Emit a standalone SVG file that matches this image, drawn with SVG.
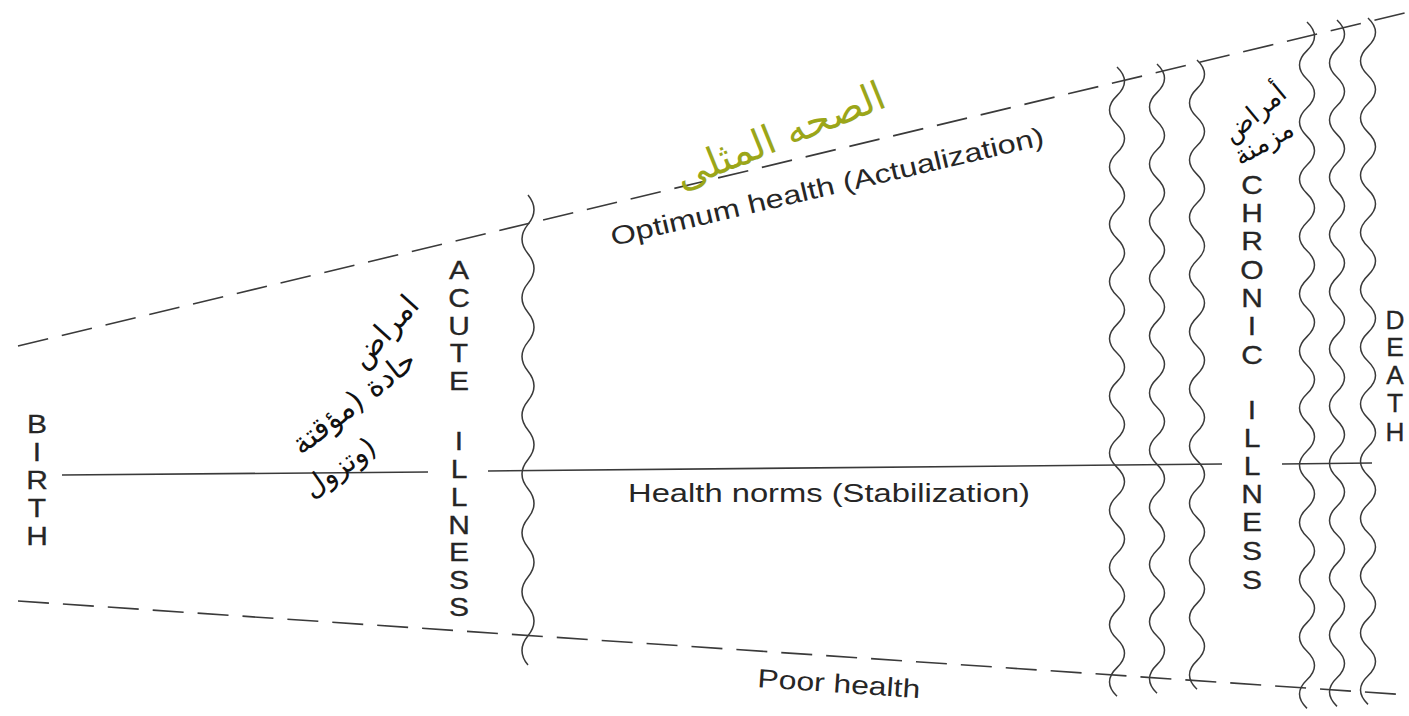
<svg xmlns="http://www.w3.org/2000/svg" width="1409" height="716" viewBox="0 0 1409 716">
<style>
.ln{fill:none;stroke:#3a3a3a;stroke-width:1.6}
.dash{fill:none;stroke:#3a3a3a;stroke-width:1.6;stroke-dasharray:31 14}
.wv{fill:none;stroke:#3a3a3a;stroke-width:1.5}
.lab{font-family:"Liberation Sans",Arial,sans-serif;font-size:26px;fill:#262626}
.vl{font-family:"Liberation Sans",Arial,sans-serif;font-size:25px;fill:#262626;text-anchor:middle;stroke:#262626;stroke-width:0.3}
.ar{font-family:"DejaVu Sans","Noto Sans",sans-serif;fill:#111;text-anchor:middle}
.arg{font-family:"DejaVu Sans","Noto Sans",sans-serif;fill:#9ba619;text-anchor:middle}
</style>
<rect width="1409" height="716" fill="#fff"/>
<g id="connectors">
<line class="dash" x1="18" y1="346" x2="1409" y2="12"/>
<line class="dash" x1="18" y1="601" x2="1409" y2="695"/>
<line class="ln" x1="62" y1="475" x2="428" y2="472"/>
<line class="ln" x1="488" y1="471" x2="1222" y2="464"/>
<line class="ln" x1="1282" y1="464" x2="1372" y2="463"/>
<path class="wv" d="M528 195 q12 14.69 0 29.38 t0 29.38 t0 29.38 t0 29.38 t0 29.38 t0 29.38 t0 29.38 t0 29.38 t0 29.38 t0 29.38 t0 29.38 t0 29.38 t0 29.38 t0 29.38 t0 29.38 t0 29.38"/>
<path class="wv" d="M1117 67 q15 14.3 0 28.6 t0 28.6 t0 28.6 t0 28.6 t0 28.6 t0 28.6 t0 28.6 t0 28.6 t0 28.6 t0 28.6 t0 28.6 t0 28.6 t0 28.6 t0 28.6 t0 28.6 t0 28.6 t0 28.6 t0 28.6 t0 28.6 t0 28.6 t0 28.6 t0 28.6"/>
<path class="wv" d="M1157 64 q15 14.3 0 28.6 t0 28.6 t0 28.6 t0 28.6 t0 28.6 t0 28.6 t0 28.6 t0 28.6 t0 28.6 t0 28.6 t0 28.6 t0 28.6 t0 28.6 t0 28.6 t0 28.6 t0 28.6 t0 28.6 t0 28.6 t0 28.6 t0 28.6 t0 28.6 t0 28.6"/>
<path class="wv" d="M1197 60 q15 14.3 0 28.6 t0 28.6 t0 28.6 t0 28.6 t0 28.6 t0 28.6 t0 28.6 t0 28.6 t0 28.6 t0 28.6 t0 28.6 t0 28.6 t0 28.6 t0 28.6 t0 28.6 t0 28.6 t0 28.6 t0 28.6 t0 28.6 t0 28.6 t0 28.6 t0 28.6"/>
<path class="wv" d="M1307 22 q15 14.3 0 28.6 t0 28.6 t0 28.6 t0 28.6 t0 28.6 t0 28.6 t0 28.6 t0 28.6 t0 28.6 t0 28.6 t0 28.6 t0 28.6 t0 28.6 t0 28.6 t0 28.6 t0 28.6 t0 28.6 t0 28.6 t0 28.6 t0 28.6 t0 28.6 t0 28.6 t0 28.6 t0 28.6"/>
<path class="wv" d="M1337 20 q15 14.3 0 28.6 t0 28.6 t0 28.6 t0 28.6 t0 28.6 t0 28.6 t0 28.6 t0 28.6 t0 28.6 t0 28.6 t0 28.6 t0 28.6 t0 28.6 t0 28.6 t0 28.6 t0 28.6 t0 28.6 t0 28.6 t0 28.6 t0 28.6 t0 28.6 t0 28.6 t0 28.6 t0 28.6"/>
<path class="wv" d="M1368 18 q15 14.3 0 28.6 t0 28.6 t0 28.6 t0 28.6 t0 28.6 t0 28.6 t0 28.6 t0 28.6 t0 28.6 t0 28.6 t0 28.6 t0 28.6 t0 28.6 t0 28.6 t0 28.6 t0 28.6 t0 28.6 t0 28.6 t0 28.6 t0 28.6 t0 28.6 t0 28.6 t0 28.6 t0 28.6"/>
</g>
<g id="birth" transform="translate(37,0) scale(1.2,1)">
<text class="vl" x="0" y="433">B</text>
<text class="vl" x="0" y="461">I</text>
<text class="vl" x="0" y="489">R</text>
<text class="vl" x="0" y="517">T</text>
<text class="vl" x="0" y="545">H</text>
</g>
<g id="acute" transform="translate(459,0) scale(1.2,1)">
<text class="vl" x="0" y="279">A</text>
<text class="vl" x="0" y="307">C</text>
<text class="vl" x="0" y="335">U</text>
<text class="vl" x="0" y="362">T</text>
<text class="vl" x="0" y="390">E</text>
<text class="vl" x="0" y="450">I</text>
<text class="vl" x="0" y="478">L</text>
<text class="vl" x="0" y="506">L</text>
<text class="vl" x="0" y="534">N</text>
<text class="vl" x="0" y="561">E</text>
<text class="vl" x="0" y="589">S</text>
<text class="vl" x="0" y="616">S</text>
</g>
<g id="chronic" transform="translate(1252,0) scale(1.2,1)">
<text class="vl" x="0" y="194">C</text>
<text class="vl" x="0" y="222">H</text>
<text class="vl" x="0" y="250">R</text>
<text class="vl" x="0" y="279">O</text>
<text class="vl" x="0" y="307">N</text>
<text class="vl" x="0" y="335">I</text>
<text class="vl" x="0" y="364">C</text>
<text class="vl" x="0" y="419">I</text>
<text class="vl" x="0" y="447">L</text>
<text class="vl" x="0" y="475">L</text>
<text class="vl" x="0" y="503">N</text>
<text class="vl" x="0" y="531">E</text>
<text class="vl" x="0" y="560">S</text>
<text class="vl" x="0" y="589">S</text>
</g>
<g id="death" transform="translate(1395,0) scale(1.05,1)">
<text class="vl" x="0" y="329">D</text>
<text class="vl" x="0" y="356">E</text>
<text class="vl" x="0" y="384">A</text>
<text class="vl" x="0" y="412">T</text>
<text class="vl" x="0" y="441">H</text>
</g>
<g id="optimum">
<text class="lab" transform="translate(613,246) rotate(-13.2)" textLength="444" lengthAdjust="spacingAndGlyphs">Optimum health (Actualization)</text>
</g>
<g id="norms">
<text class="lab" x="628" y="502" textLength="402" lengthAdjust="spacingAndGlyphs">Health norms (Stabilization)</text>
</g>
<g id="poor">
<text class="lab" transform="translate(757,687) rotate(3.9)" textLength="163" lengthAdjust="spacingAndGlyphs">Poor health</text>
</g>
<g id="note-optimum">
<text class="arg" font-size="40" transform="translate(785,148) rotate(-22)">الصحه المثلى</text>
</g>
<g id="note-acute">
<text class="ar" font-size="30" transform="translate(392,338) rotate(-48)">امراض</text>
<text class="ar" font-size="30" transform="translate(360,410) rotate(-38)">حادة (مؤقتة</text>
<text class="ar" font-size="28" transform="translate(345,475) rotate(-35)">وتزول)</text>
</g>
<g id="note-chronic">
<text class="ar" font-size="26" transform="translate(1260,120) rotate(-40)">أمراض</text>
<text class="ar" font-size="26" transform="translate(1268,150) rotate(-30)">مزمنة</text>
</g>
</svg>
